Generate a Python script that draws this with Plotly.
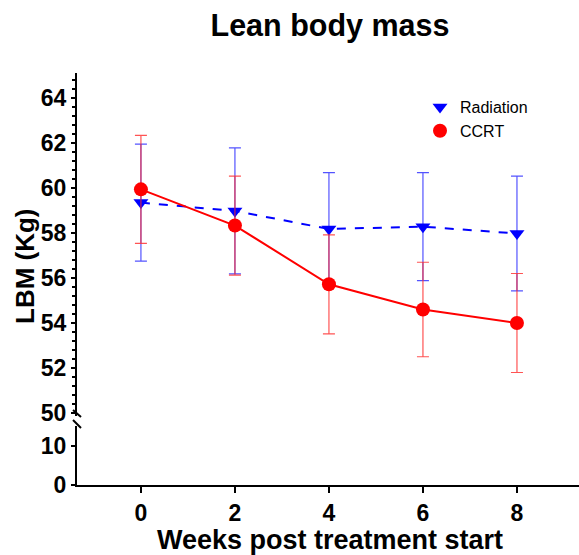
import plotly.graph_objects as go

weeks = [0, 2, 4, 6, 8]
radiation_mean = [59.35, 58.98, 58.18, 58.28, 57.98]
radiation_err = [2.6, 2.8, 2.5, 2.4, 2.55]
ccrt_mean = [59.94, 58.33, 55.72, 54.6, 54.0]
ccrt_err = [2.4, 2.2, 2.2, 2.1, 2.2]

upper_ticks = [50, 52, 54, 56, 58, 60, 62, 64]
lower_ticks = [0, 10]
x_ticks = [0, 2, 4, 6, 8]

W, H = 579, 555
L, R, T, B = 77, 0, 73, 70
PW, PH = W - L - R, H - T - B

def px2paper(px, py):
    return (px - L) / PW, (H - B - py) / PH

FONT = "Liberation Sans, Arial, sans-serif"
BLUE = "#0000ff"
RED = "#ff0000"

fig = go.Figure()
# empty trace so that the lower (x, y) subplot exists and is drawn
fig.add_trace(go.Scatter(x=[None], y=[None], xaxis="x", yaxis="y",
                         showlegend=False, hoverinfo="skip"))
fig.add_trace(go.Scatter(
    x=weeks, y=radiation_mean, name="Radiation", mode="lines+markers",
    xaxis="x", yaxis="y2", showlegend=False,
    line=dict(color=BLUE, width=2, dash="dash"),
    marker=dict(symbol="triangle-down", size=13, color=BLUE),
    error_y=dict(type="data", array=radiation_err, visible=True,
                 color="rgba(40,40,255,0.8)", thickness=1.2, width=6),
))
fig.add_trace(go.Scatter(
    x=weeks, y=ccrt_mean, name="CCRT", mode="lines+markers",
    xaxis="x", yaxis="y2", showlegend=False,
    line=dict(color=RED, width=2),
    marker=dict(symbol="circle", size=14, color=RED),
    error_y=dict(type="data", array=ccrt_err, visible=True,
                 color="rgba(255,40,40,0.8)", thickness=1.2, width=6),
))
# legend entries (markers only, as in the reference)
fig.add_trace(go.Scatter(x=[None], y=[None], name="Radiation", mode="markers",
                         xaxis="x", yaxis="y2",
                         marker=dict(symbol="triangle-down", size=13, color=BLUE)))
fig.add_trace(go.Scatter(x=[None], y=[None], name="CCRT", mode="markers",
                         xaxis="x", yaxis="y2",
                         marker=dict(symbol="circle", size=14, color=RED)))

y_low_top = px2paper(0, 426)[1]
y_up_bot = px2paper(0, 415.5)[1]

tickfont = dict(family=FONT, size=23, color="black", weight="bold")

fig.update_layout(
    width=W, height=H,
    margin=dict(l=L, r=R, t=T, b=B),
    paper_bgcolor="white", plot_bgcolor="white",
    title=dict(text="Lean body mass", x=330 / W, xanchor="center",
               y=1 - 25 / H, yanchor="middle", yref="container",
               font=dict(family=FONT, size=30.5, color="black", weight="bold")),
    xaxis=dict(range=[-1.36, 9.32], tickvals=x_ticks, anchor="y",
               showline=True, linecolor="black", linewidth=2,
               ticks="outside", ticklen=6, tickwidth=2, tickcolor="black",
               tickfont=tickfont, showgrid=False, zeroline=False),
    yaxis=dict(domain=[0, y_low_top], range=[0, 15], tickvals=lower_ticks,
               anchor="x", showline=True, linecolor="black", linewidth=2,
               ticks="outside", ticklen=4, tickwidth=2, tickcolor="black",
               tickfont=tickfont, showgrid=False, zeroline=False),
    yaxis2=dict(domain=[y_up_bot, 1], range=[49.89, 65.11], tickvals=upper_ticks,
                anchor="x", showline=True, linecolor="black", linewidth=2,
                ticks="outside", ticklen=4, tickwidth=2, tickcolor="black",
                minor=dict(dtick=0.4, tick0=50, ticks="outside", ticklen=3,
                           tickwidth=1.5, tickcolor="black"),
                tickfont=tickfont, showgrid=False, zeroline=False),
    legend=dict(x=px2paper(420, 0)[0], y=px2paper(0, 90)[1],
                xanchor="left", yanchor="top",
                font=dict(family=FONT, size=16, color="black"),
                bgcolor="rgba(0,0,0,0)", tracegroupgap=0),
    showlegend=True,
)

# axis titles as annotations
fig.add_annotation(text="LBM (Kg)", textangle=-90, showarrow=False,
                   xref="paper", yref="paper",
                   x=px2paper(25, 0)[0], y=px2paper(0, 266)[1],
                   xanchor="center", yanchor="middle",
                   font=dict(family=FONT, size=26, color="black", weight="bold"))
fig.add_annotation(text="Weeks post treatment start", showarrow=False,
                   xref="paper", yref="paper",
                   x=px2paper(330, 0)[0], y=px2paper(0, 540)[1],
                   xanchor="center", yanchor="middle",
                   font=dict(family=FONT, size=27, color="black", weight="bold"))

# axis break marks
for (x0, y0, x1, y1) in [(73, 410, 81, 417), (73, 420, 81, 428)]:
    a = px2paper(x0, y0)
    b = px2paper(x1, y1)
    fig.add_shape(type="line", xref="paper", yref="paper",
                  x0=a[0], y0=a[1], x1=b[0], y1=b[1],
                  line=dict(color="black", width=2))

fig.write_html("out.html", config={"displayModeBar": False},
               post_script="document.body.style.margin='0';document.body.style.overflow='hidden';")
